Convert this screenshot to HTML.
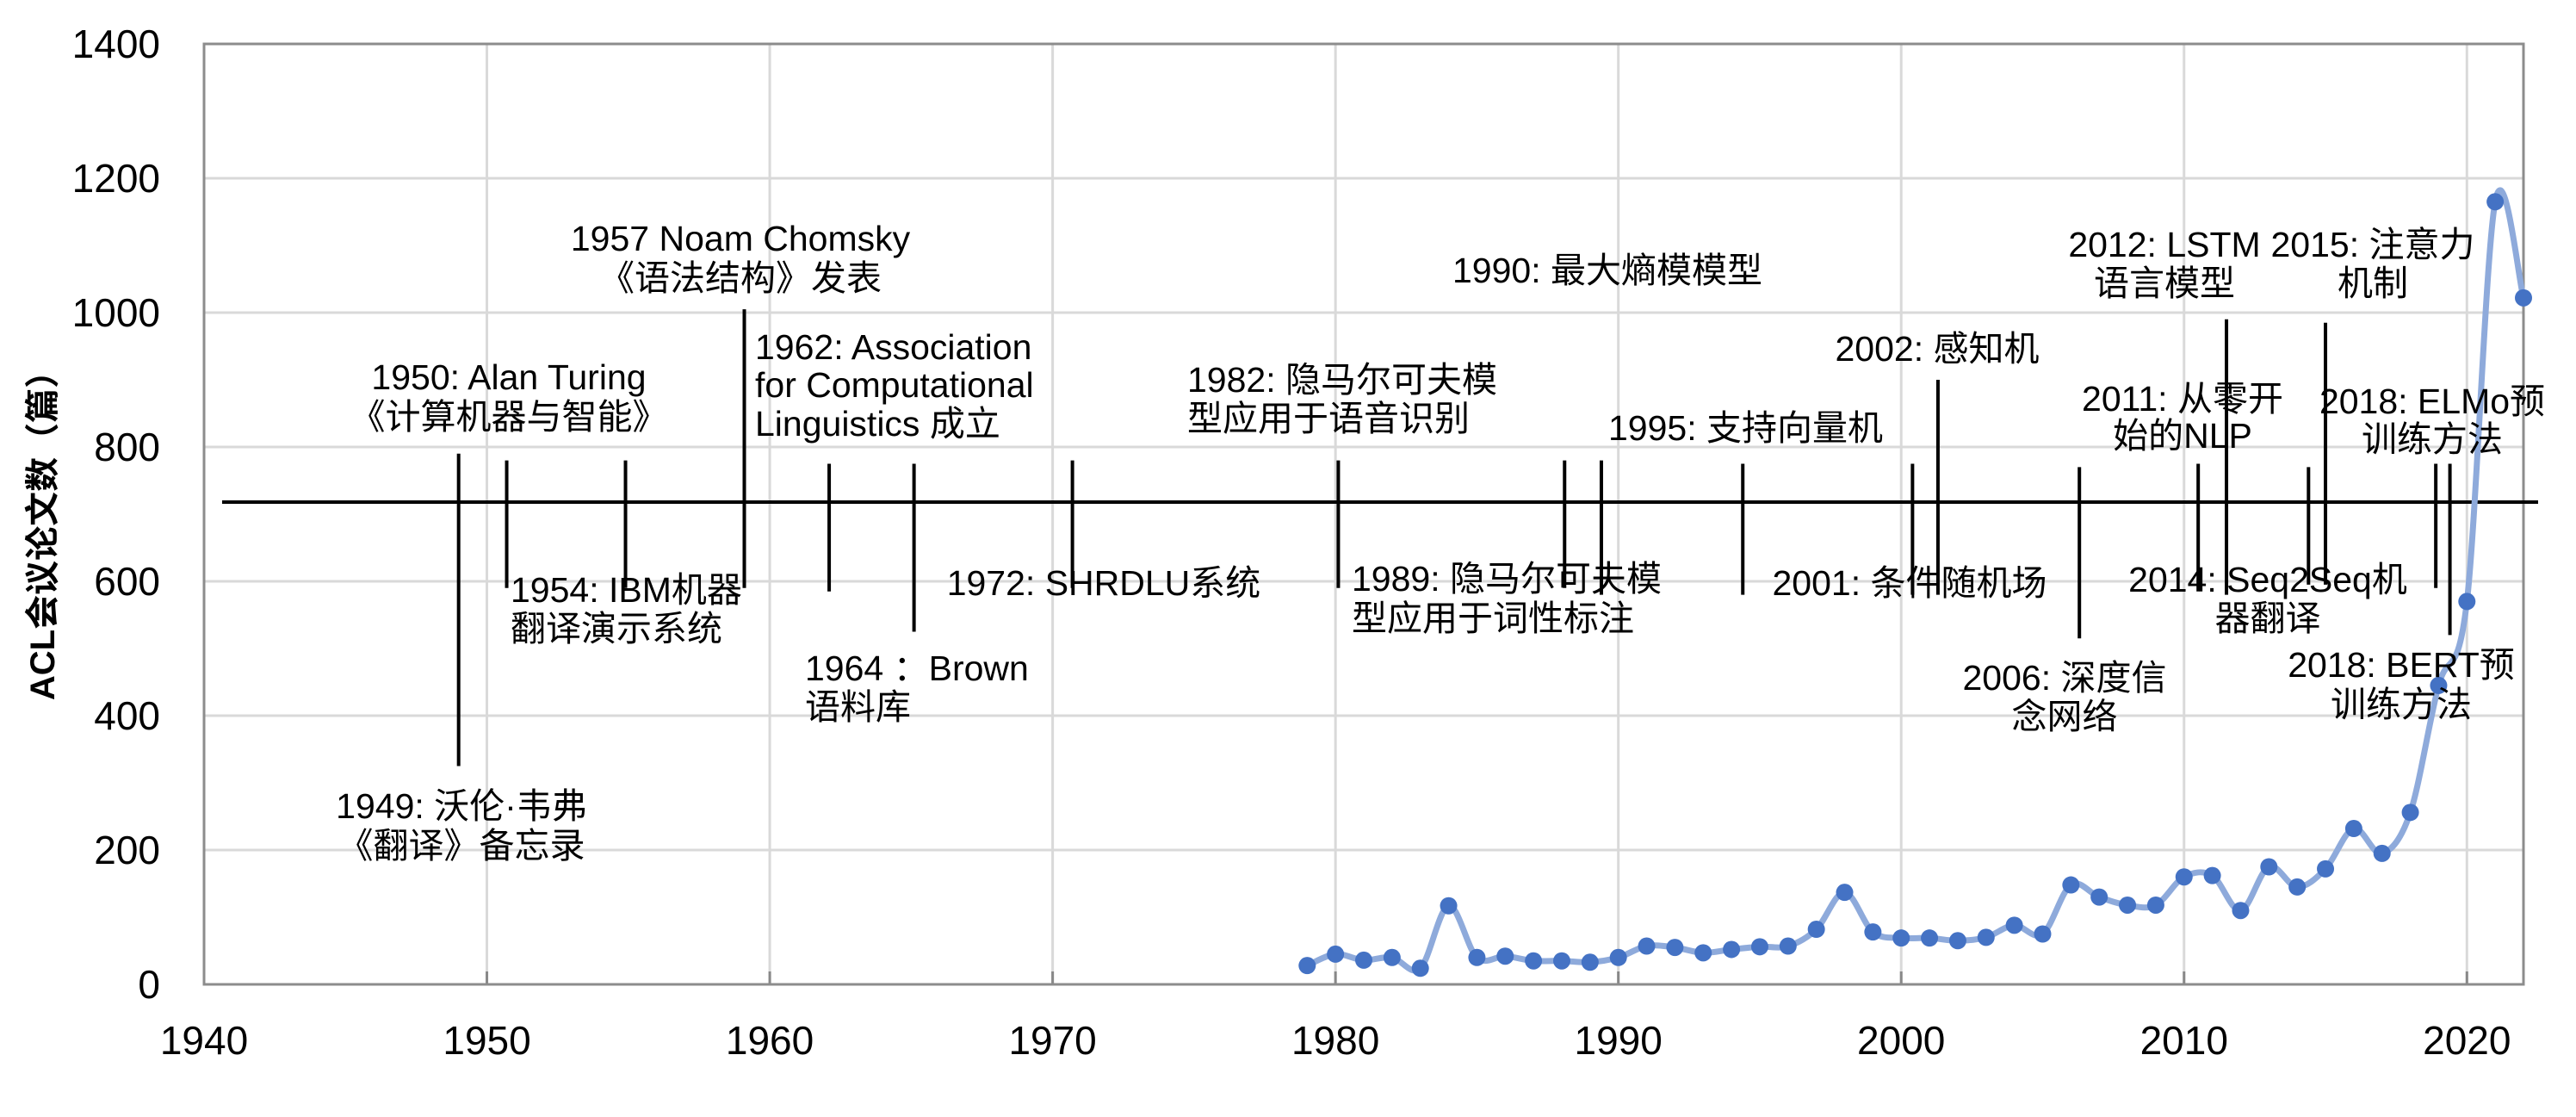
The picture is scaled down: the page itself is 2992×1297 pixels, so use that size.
<!DOCTYPE html>
<html><head><meta charset="utf-8"><style>
html,body{margin:0;padding:0;background:#fff;}
svg{display:block;}
text{font-family:"Liberation Sans","Noto Sans CJK SC",sans-serif;fill:#000;}
</style></head><body>
<svg id="chart" width="2992" height="1297" viewBox="0 0 2992 1297" xmlns="http://www.w3.org/2000/svg">
<g id="grid"></g>
<g id="axes"></g>
<g id="timeline"></g>
<g id="series"></g>
<text x="50" y="612" transform="rotate(-90 50 612)" text-anchor="middle" dominant-baseline="central" font-size="40" font-weight="bold">ACL会议论文数（篇）</text>
</svg>
<script>
const years = [1979,1980,1981,1982,1983,1984,1985,1986,1987,1988,1989,1990,1991,1992,1993,1994,1995,1996,1997,1998,1999,2000,2001,2002,2003,2004,2005,2006,2007,2008,2009,2010,2011,2012,2013,2014,2015,2016,2017,2018,2019,2020,2021,2022];
const papers = [28,45,36,40,24,117,40,42,35,35,33,40,57,55,47,52,56,57,82,137,78,69,69,65,70,88,75,148,130,118,118,160,162,110,175,145,172,232,195,256,445,570,1165,1022];
const xTicks = [1940,1950,1960,1970,1980,1990,2000,2010,2020];
const yTicks = [0,200,400,600,800,1000,1200,1400];
const eventYears = [1949,1950.7,1954.9,1959.1,1962.1,1965.1,1970.7,1980.1,1988.1,1989.4,1994.4,2000.4,2001.3,2006.3,2010.5,2011.5,2014.4,2015.0,2018.9,2019.4];
const eventTop = [790,780,780,1005,775,775,780,780,780,780,775,775,900,770,775,990,770,985,775,775];
const eventBottom = [325,590,590,590,585,525,590,590,590,580,580,580,580,515,585,580,595,595,590,520];
const timelineValue = 718;

const X0=237, X1=2931, Y0=1143, Y1=51, XMIN=1940, XMAX=2022, YMAX=1400;
const x = v => X0 + (v-XMIN)/(XMAX-XMIN)*(X1-X0);
const y = v => Y0 - v/YMAX*(Y0-Y1);
const NS="http://www.w3.org/2000/svg";
function mk(tag, parent, attrs){const e=document.createElementNS(NS,tag);for(const k in attrs)e.setAttribute(k,attrs[k]);parent.appendChild(e);return e;}
const grid=document.getElementById('grid'), axes=document.getElementById('axes'), tl=document.getElementById('timeline'), ser=document.getElementById('series'), svg=document.getElementById('chart');

yTicks.forEach(t=>{
  const l=mk('line',grid,{x1:X0,x2:X1,y1:y(t),y2:y(t),stroke:'#d9d9d9','stroke-width':3});
  
  
  const tx=mk('text',axes,{x:186,y:y(t),'text-anchor':'end','dominant-baseline':'central','font-size':46});
  tx.textContent=t;
  
  
});
xTicks.forEach(t=>{
  const l=mk('line',grid,{x1:x(t),x2:x(t),y1:Y1,y2:Y0,stroke:'#d9d9d9','stroke-width':3});
  
  
  const tk=mk('line',axes,{x1:x(t),x2:x(t),y1:Y0-15,y2:Y0,stroke:'#888','stroke-width':3});
  
  
  const tx=mk('text',axes,{x:x(t),y:1208,'text-anchor':'middle','dominant-baseline':'central','font-size':46});
  tx.textContent=t;
  
  
});
const frame=mk('rect',axes,{x:X0,y:Y1,width:X1-X0,height:Y0-Y1,fill:'none',stroke:'#8c8c8c','stroke-width':3});



const ty=y(timelineValue);
const hl=mk('line',tl,{x1:258,x2:2948,y1:ty,y2:ty,stroke:'#000','stroke-width':4});


eventYears.forEach((ev,i)=>{
  const l=mk('line',tl,{x1:x(ev),x2:x(ev),y1:y(eventTop[i]),y2:y(eventBottom[i]),stroke:'#000','stroke-width':4});
  
  
});
const labels=[
 [591,'middle',[438,484],['1950: Alan Turing','《计算机器与智能》']],
 [860,'middle',[277,323],['1957 Noam Chomsky','《语法结构》发表']],
 [593,'start',[685,730],['1954: IBM机器','翻译演示系统']],
 [536,'middle',[936,982],['1949: 沃伦·韦弗','《翻译》备忘录']],
 [877,'start',[403,447,492],['1962:  Association','for Computational','Linguistics 成立']],
 [935,'start',[776,821],['1964 ：Brown','语料库']],
 [1282,'middle',[677],['1972: SHRDLU系统']],
 [1379,'start',[441,486],['1982: 隐马尔可夫模','型应用于语音识别']],
 [1570,'start',[672,718],['1989: 隐马尔可夫模','型应用于词性标注']],
 [1687,'start',[314],['1990: 最大熵模模型']],
 [2187,'end',[497],['1995: 支持向量机']],
 [2250,'middle',[405],['2002: 感知机']],
 [2218,'middle',[677],['2001: 条件随机场']],
 [2398,'middle',[787,832],['2006: 深度信','念网络']],
 [2535,'middle',[463,506],['2011: 从零开','始的NLP']],
 [2514,'middle',[284,329],['2012: LSTM','语言模型']],
 [2756,'middle',[284,329],['2015: 注意力','机制']],
 [2825,'middle',[466,510],['2018: ELMo预','训练方法']],
 [2634,'middle',[673,718],['2014: Seq2Seq机','器翻译']],
 [2789,'middle',[772,818],['2018: BERT预','训练方法']]
];
labels.forEach(lb=>{
  lb[3].forEach((s,j)=>{
    const t=mk('text',svg,{x:lb[0],y:lb[2][j],'text-anchor':lb[1],'dominant-baseline':'central','font-size':41});
    t.textContent=s;
    
    
  });
});

const pts=years.map((yr,i)=>[x(yr),y(papers[i])]);
let d=`M${pts[0][0]},${pts[0][1]}`;
for(let i=0;i<pts.length-1;i++){
  const p0=pts[Math.max(0,i-1)],p1=pts[i],p2=pts[i+1],p3=pts[Math.min(pts.length-1,i+2)];
  const t=1/6;
  d+=` C${p1[0]+(p2[0]-p0[0])*t},${p1[1]+(p2[1]-p0[1])*t} ${p2[0]-(p3[0]-p1[0])*t},${p2[1]-(p3[1]-p1[1])*t} ${p2[0]},${p2[1]}`;
}
const path=mk('path',ser,{d:d,fill:'none',stroke:'#8eaadb','stroke-width':7,'stroke-linejoin':'round'});


pts.forEach(p=>{
  const c=mk('circle',ser,{cx:p[0],cy:p[1],r:10,fill:'#4472c4'});
  
  
});
</script>
</body></html>
